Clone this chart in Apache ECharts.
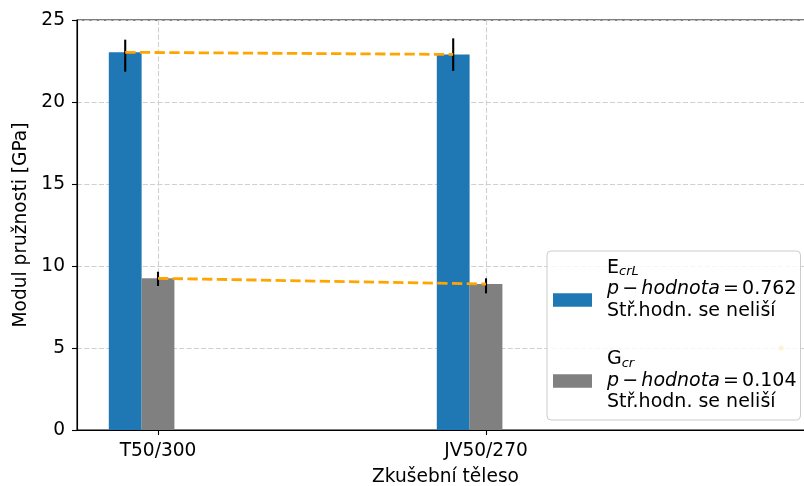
<!DOCTYPE html>
<html>
<head>
<meta charset="utf-8">
<script src="https://cdn.jsdelivr.net/npm/echarts@6/dist/echarts.min.js"></script>
<style>html,body{margin:0;padding:0;background:#fff}#c{width:804px;height:486px}</style>
</head>
<body>
<div id="c"></div>
<script>
// ---- data ----
const categories = ['T50/300', 'JV50/270'];
const eMean = [23.03, 22.9];
const eLow  = [21.85, 21.9];
const eHigh = [23.8, 23.88];
const gMean = [9.25, 8.9];
const gLow  = [8.78, 8.33];
const gHigh = [9.65, 9.25];
const extraPoint = [1.9, 5.0];
const yTicks = [0, 5, 10, 15, 20, 25];

// ---- layout / style constants ----
const FONT = 'DejaVu Sans';
const FS = 18.6;
const LFS = 19;
const X_MIN = -0.247, X_MAX = 2.0;
const GRID = {left: 77, top: 20, width: 737, height: 410};
const BAR_W_UNITS = 0.1;
const barPx = BAR_W_UNITS * GRID.width / (X_MAX - X_MIN);
const BLUE = '#1f77b4', GRAY = '#808080', ORANGE = '#ffa500';

const eName = 'E_crL', gName = 'G_cr';
const blueX = categories.map((c, i) => i - BAR_W_UNITS);
const grayX = categories.map((c, i) => i);

const barSeries = (name, xs, vals, color) => ({
  name, type: 'bar', barWidth: barPx, barGap: '-100%',
  itemStyle: {color}, z: 2,
  data: xs.map((x, i) => [x, vals[i]])
});
const errSeries = (xs, lo, hi) => ({
  type: 'custom', z: 3, silent: true,
  data: xs.map((x, i) => [x, lo[i], hi[i]]),
  renderItem: (params, api) => {
    const p1 = api.coord([api.value(0), api.value(1)]);
    const p2 = api.coord([api.value(0), api.value(2)]);
    return {type: 'line', shape: {x1: p1[0], y1: p1[1], x2: p2[0], y2: p2[1]},
      style: {stroke: '#000', lineWidth: 2.1, lineCap: 'butt'}};
  }
});
const meanLine = (xs, vals) => ({
  type: 'line', z: 4, silent: true, symbol: 'none',
  lineStyle: {color: ORANGE, width: 2.8, type: [10.3, 4.4]},
  data: xs.map((x, i) => [x, vals[i]])
});

const LH = 21.5;
const rich = {
  b: {fontFamily: FONT, fontSize: LFS, color: '#000', lineHeight: LH},
  i: {fontFamily: FONT, fontSize: LFS, fontStyle: 'italic', color: '#000', lineHeight: LH},
  sp: {fontFamily: FONT, fontSize: 10, color: '#000', lineHeight: LH},
  s: {fontFamily: FONT, fontSize: 13, fontStyle: 'italic', color: '#000', lineHeight: 14, verticalAlign: 'bottom'}
};
const pLine = v => '{i|p}{sp| }{b|−}{sp| }{i|hodnota}{sp| }{b|=}{sp| }{b|' + v + '}';

const chart = echarts.init(document.getElementById('c'), null, {renderer: 'canvas'});
chart.setOption({
  animation: false,
  backgroundColor: '#fff',
  grid: {left: GRID.left, top: GRID.top, width: GRID.width, height: GRID.height,
    outerBoundsMode: 'none', containLabel: false,
    show: true, borderColor: '#000', borderWidth: 1.1, backgroundColor: 'transparent'},
  xAxis: {
    type: 'value', min: X_MIN, max: X_MAX,
    name: 'Zkušební těleso', nameLocation: 'middle', nameGap: 38,
    nameTextStyle: {fontFamily: FONT, fontSize: FS, color: '#000'},
    axisLine: {show: true, onZero: false, lineStyle: {color: '#000', width: 1.1}},
    axisTick: {show: true, customValues: [0, 1], length: 5, lineStyle: {color: '#000', width: 1.1}},
    axisLabel: {customValues: [0, 1], formatter: v => categories[Math.round(v)] || '',
      fontFamily: FONT, fontSize: FS, color: '#000', margin: 12},
    splitLine: {show: true, lineStyle: {color: '#d0d0d0', width: 1.1, type: [5.1, 2.2]}}
  },
  yAxis: {
    type: 'value', min: 0, max: 25, interval: 5,
    name: 'Modul pružnosti [GPa]', nameLocation: 'middle', nameGap: 45, nameRotate: 90,
    nameTextStyle: {fontFamily: FONT, fontSize: FS, color: '#000'},
    axisLine: {show: true, onZero: false, lineStyle: {color: '#000', width: 1.1}},
    axisTick: {show: true, length: 5, lineStyle: {color: '#000', width: 1.1}},
    axisLabel: {fontFamily: FONT, fontSize: FS, color: '#000', margin: 12,
      formatter: v => yTicks.includes(v) ? String(v) : ''},
    splitLine: {show: true, lineStyle: {color: '#d0d0d0', width: 1.1, type: [5.1, 2.2]}}
  },
  legend: {
    orient: 'vertical', left: 547, top: 251,
    data: [eName, gName],
    icon: 'rect', itemWidth: 39, itemHeight: 13.5, itemGap: 5.75,
    padding: [6, 4, 6.75, 6],
    backgroundColor: 'rgba(255,255,255,0.8)', borderColor: '#cccccc', borderWidth: 1, borderRadius: 4,
    textStyle: {fontFamily: FONT, fontSize: LFS, color: '#000', lineHeight: LH, padding: [0, 0, 0, 10], rich},
    formatter: name => name === eName
      ? '{b|E}{s|crL}\n' + pLine('0.762') + '\n{b|Stř.hodn. se neliší}\n{b| }'
      : '{b|G}{s|cr}\n' + pLine('0.104') + '\n{b|Stř.hodn. se neliší}'
  },
  series: [
    barSeries(eName, blueX, eMean, BLUE),
    barSeries(gName, grayX, gMean, GRAY),
    errSeries(blueX, eLow, eHigh),
    errSeries(grayX, gLow, gHigh),
    meanLine(blueX, eMean),
    meanLine(grayX, gMean),
    {type: 'scatter', z: 2, silent: true, symbolSize: 5, itemStyle: {color: ORANGE}, data: [extraPoint]}
  ]
});
</script>
</body>
</html>
